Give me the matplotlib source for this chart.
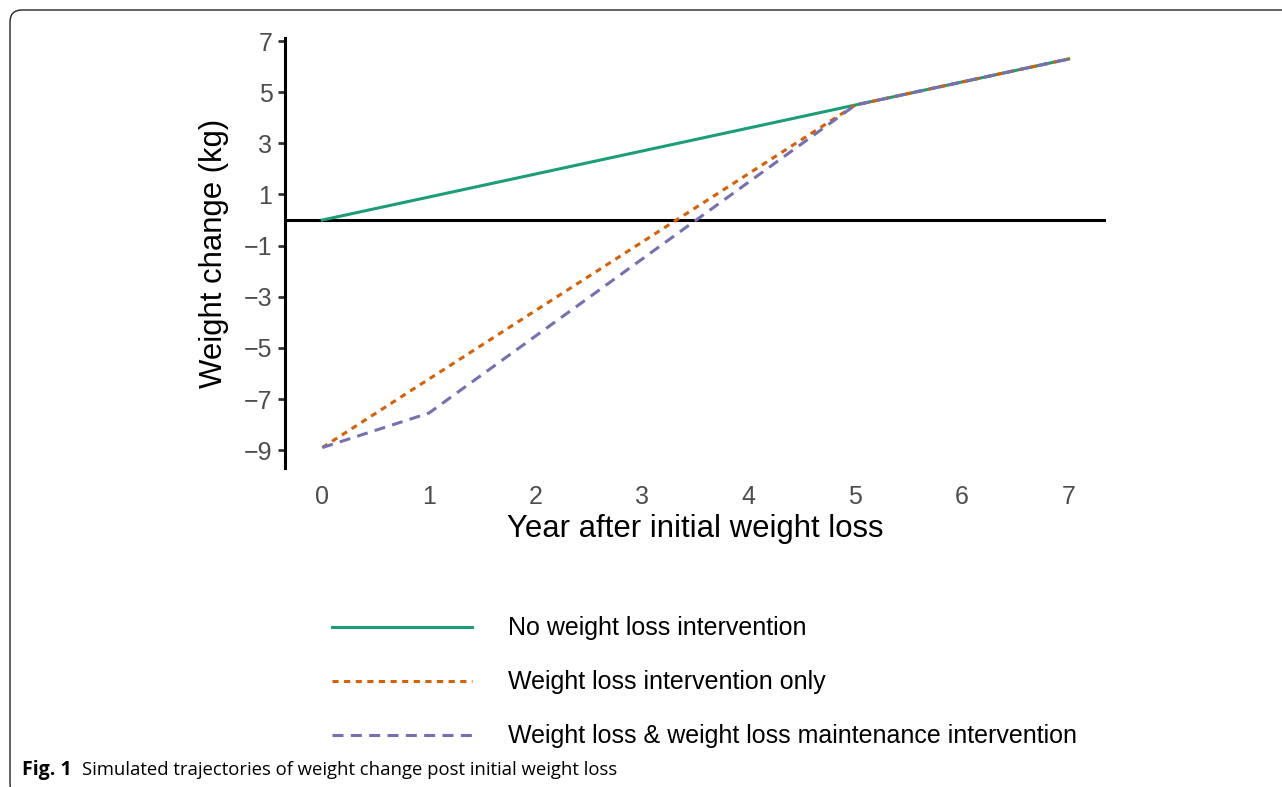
import matplotlib.pyplot as plt
from matplotlib.patches import FancyBboxPatch

# vertices of the simulated trajectories (year, kg)
years_none = [0, 5, 7]
kg_none = [0.0, 4.5, 6.3]

years_wl = [0, 5, 7]
kg_wl = [-8.9, 4.5, 6.3]

years_wlm = [0, 1, 5, 7]
kg_wlm = [-8.9, -7.55, 4.5, 6.3]

labels = [
    'No weight loss intervention',
    'Weight loss intervention only',
    'Weight loss & weight loss maintenance intervention',
]
colors = ['#1B9E77', '#D95F02', '#7570B3']
yticks = [-9, -7, -5, -3, -1, 1, 3, 5, 7]
xticks = [0, 1, 2, 3, 4, 5, 6, 7]

plt.rcParams['font.family'] = ['Liberation Sans', 'DejaVu Sans']

fig = plt.figure(figsize=(12.82, 7.87), dpi=100)
ax = fig.add_axes([0.2223, 0.4053, 0.6404, 0.5464])

ax.axhline(0, color='black', linewidth=2.2, zorder=1)

lw = 2.2
l1, = ax.plot(years_none, kg_none, color=colors[0], linewidth=lw, zorder=2)
l2, = ax.plot(years_wl, kg_wl, color=colors[1], linewidth=lw, zorder=3,
              linestyle=(0, (2.0, 1.8)))
l3, = ax.plot(years_wlm, kg_wlm, color=colors[2], linewidth=lw, zorder=4,
              linestyle=(0, (3.6, 2.4)))

ax.set_xlim(-0.35, 7.35)
ax.set_ylim(-9.7, 7.12)
ax.set_xticks(xticks)
ax.set_yticks(yticks)
ax.set_yticklabels([f'{v}'.replace('-', '\u2212') for v in yticks])

for s in ['top', 'right', 'bottom']:
    ax.spines[s].set_visible(False)
ax.spines['left'].set_linewidth(2.2)
ax.tick_params(axis='y', length=5, width=2, color='#333333',
               labelsize=18, labelcolor='#4D4D4D', pad=4)
ax.tick_params(axis='x', length=0, labelsize=18, labelcolor='#4D4D4D', pad=12)

ax.set_xlabel('Year after initial weight loss', fontsize=22.4, labelpad=4)
ax.set_ylabel('Weight change (kg)', fontsize=22.4, labelpad=11)

fig.legend([l1, l2, l3], labels, loc='center left',
           bbox_to_anchor=(332 / 1282, 1 - 682.5 / 787),
           frameon=False, fontsize=18, handlelength=5.6,
           handletextpad=1.45, labelspacing=1.2, borderpad=0,
           borderaxespad=0)

# figure frame: rounded left corners, open at the bottom and right
frame = FancyBboxPatch((0.10, -0.09), 14.0, 7.86,
                       boxstyle='round,pad=0,rounding_size=0.12',
                       transform=fig.dpi_scale_trans, facecolor='none',
                       edgecolor='#222222', linewidth=1.0)
fig.add_artist(frame)

fig.text(22 / 1282, 1 - 770 / 787, 'Fig. 1', fontsize=14, fontweight='bold',
         family=['Open Sans', 'DejaVu Sans'], va='center', ha='left')
fig.text(82 / 1282, 1 - 770 / 787,
         'Simulated trajectories of weight change post initial weight loss',
         fontsize=13.3, family=['Open Sans', 'DejaVu Sans'],
         va='center', ha='left')

fig.savefig('out.png', dpi=100)
